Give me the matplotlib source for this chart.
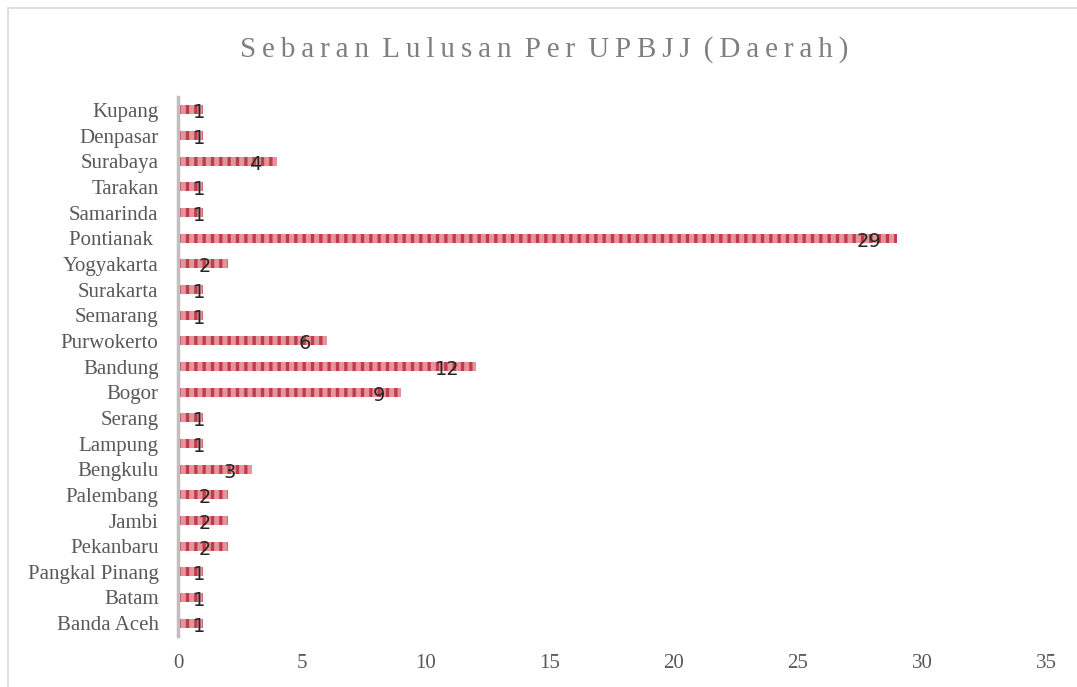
import matplotlib.pyplot as plt
from matplotlib.patches import Rectangle

# data (bottom to top, as drawn)
cities = ['Banda Aceh', 'Batam', 'Pangkal Pinang', 'Pekanbaru', 'Jambi', 'Palembang',
          'Bengkulu', 'Lampung', 'Serang', 'Bogor', 'Bandung', 'Purwokerto', 'Semarang',
          'Surakarta', 'Yogyakarta', 'Pontianak ', 'Samarinda', 'Tarakan', 'Surabaya',
          'Denpasar', 'Kupang']
lulusan = [1, 1, 1, 2, 2, 2, 3, 1, 1, 9, 12, 6, 1, 1, 2, 29, 1, 1, 4, 1, 1]
x_ticks = [0, 5, 10, 15, 20, 25, 30, 35]
title = 'Sebaran Lulusan Per UPBJJ (Daerah)'

plt.rcParams['hatch.linewidth'] = 2.4
fig = plt.figure(figsize=(10.77, 6.87), dpi=100)

# chart area border (Excel style)
fig.patches.append(Rectangle((8 / 1077, -0.1), 1.2, 1.1 - 8 / 687, transform=fig.transFigure,
                             fill=False, edgecolor='#d9d9d9', linewidth=1.2))

ax = fig.add_axes([178 / 1077, 1 - 636 / 687, (1046 - 178) / 1077, (636 - 97) / 687])
y = list(range(len(cities)))
ax.barh(y, lulusan, height=0.34, color='#e3959b', edgecolor='#bf3d4a', hatch='||', linewidth=0)

# data labels, inside end (pushed right when the bar is too short)
for yi, v in zip(y, lulusan):
    ax.text(max(v - 0.65, 1.1), yi - 0.12, str(v), ha='right', va='center', fontsize=14,
            color='#262626', family='DejaVu Sans')

ax.set_xlim(0, 35)
ax.set_ylim(-0.5, len(cities) - 0.5)
ax.set_xticks(x_ticks)
ax.set_yticks(y)
ax.set_yticklabels(cities)
for lab in ax.get_xticklabels() + ax.get_yticklabels():
    lab.set_fontfamily('Liberation Serif')
    lab.set_fontsize(15)
    lab.set_color('#595959')
ax.tick_params(axis='both', length=0)
ax.tick_params(axis='x', pad=13)
ax.tick_params(axis='y', pad=14)
for s in ['top', 'right', 'bottom']:
    ax.spines[s].set_visible(False)
ax.spines['left'].set_color('#bfbfbf')
ax.spines['left'].set_linewidth(2.5)

# spaced-out title like the original
spaced = '\u2009'.join(title).replace('\u2009 \u2009', ' \u2009')
fig.text(544 / 1077, 1 - 50 / 687, spaced, ha='center', va='center',
         fontsize=21, color='#7f7f7f', family='Liberation Serif')

fig.savefig('out.png', dpi=100)
